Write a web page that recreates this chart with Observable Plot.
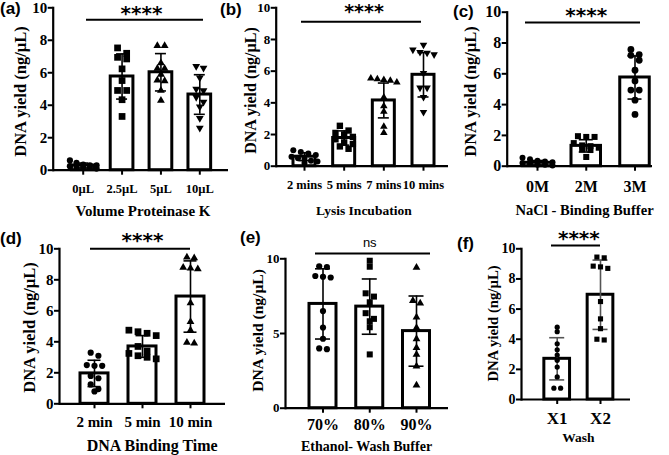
<!DOCTYPE html>
<html><head><meta charset="utf-8">
<script src="https://cdn.jsdelivr.net/npm/d3@7"></script>
<script src="https://cdn.jsdelivr.net/npm/@observablehq/plot@0.6"></script>
<style>
body{margin:0;background:#fff;}
#fig{position:relative;width:669px;height:455px;overflow:hidden;background:#fff;}
#fig svg{position:absolute;}
.plab{position:absolute;font-family:"Liberation Sans",Arial,sans-serif;font-weight:bold;font-size:17px;line-height:1;}
</style></head><body><div id="fig"></div>
<script>
// ---------------- DATA ----------------
const yTitle = "DNA yield (ng/µL)";
const panelLabels = ["(a)","(b)","(c)","(d)","(e)","(f)"];

const catsA = ["0µL","2.5µL","5µL","10µL"];
const ptsA = [
  [0.6,0.45,0.35,0.3,0.3,0.25,0.2,0.2,0.15,0.1],
  [7.53,7.2,6.95,6.85,6.24,5.52,4.91,4.91,4.34,3.31],
  [7.67,7.67,6.6,6.26,6.26,5.9,5.54,5.5,4.91,4.29],
  [6.4,6.3,5.7,5.0,4.9,4.5,4.2,3.9,3.2,2.6]
];
const meanA = [0.29,5.77,6.03,4.66];
const sdA = [0.15,1.39,1.15,1.22];
const xTitleA = "Volume Proteinase K";
const sigA = {text:"****", y:9.26};

const catsB = ["2 mins","5 mins","7 mins","10 mins"];
const ptsB = [
  [1.0,0.9,0.8,0.7,0.6,0.5,0.45,0.35,0.3,0.2],
  [2.55,2.25,2.1,2.0,1.85,1.7,1.5,1.4,1.25,1.1],
  [5.55,5.5,5.45,5.4,5.3,4.35,3.8,3.45,2.5,2.1],
  [7.66,7.35,7.2,7.15,7.05,5.87,4.95,4.95,4.36,3.41]
];
const meanB = [0.6,1.78,4.15,5.77];
const sdB = [0.25,0.45,1.1,1.4];
const xTitleB = "Lysis Incubation";
const sigB = {text:"****", y:9.12};

const catsC = ["0M","2M","3M"];
const ptsC = [
  [0.55,0.45,0.35,0.3,0.25,0.2,0.15,0.1,0.1,0.05],
  [1.95,1.9,1.9,1.5,1.35,1.3,1.2,1.1,1.05,0.6],
  [7.58,7.25,7.2,6.88,6.23,5.54,4.94,4.94,4.29,3.36]
];
const meanC = [0.22,1.32,5.76];
const sdC = [0.15,0.4,1.4];
const xTitleC = "NaCl - Binding Buffer";
const sigC = {text:"****", y:9.33};

const catsD = ["2 min","5 min","10 min"];
const ptsD = [
  [3.3,3.1,2.5,2.45,2.45,1.8,1.65,1.25,0.95,0.8],
  [4.75,4.65,4.55,4.4,3.7,3.4,3.25,3.1,3.0,2.9],
  [9.45,9.4,8.8,8.75,8.7,6.5,5.3,4.75,3.95,3.9]
];
const meanD = [1.96,3.7,6.92];
const sdD = [0.85,0.7,2.3];
const xTitleD = "DNA Binding Time";
const sigD = {text:"****", y:10.0};

const catsE = ["70%","80%","90%"];
const ptsE = [
  [9.5,9.45,8.85,8.8,8.75,6.5,5.4,4.65,4.0,3.95],
  [9.87,9.47,7.69,7.47,7.09,6.36,5.98,5.82,5.42,3.6],
  [9.42,7.2,7.02,6.09,5.38,4.64,4.04,3.6,2.8,1.53]
];
const meanE = [6.98,6.8,5.16];
const sdE = [2.35,1.85,2.35];
const xTitleE = "Ethanol- Wash Buffer";
const sigE = {text:"ns", y:10.35};

const catsF = ["X1","X2"];
const ptsF = [
  [4.8,4.5,3.7,3.3,2.95,2.6,2.15,1.5,0.75,0.75],
  [9.45,9.4,8.85,8.8,8.7,6.5,5.35,4.7,4.0,3.95]
];
const meanF = [2.7,6.95];
const sdF = [1.4,2.3];
const xTitleF = "Wash";
const sigF = {text:"****", y:10.22};

const ticks10 = [0,2,4,6,8,10];
const ticksE = [0,5,10];

// ---------------- STYLE / LAYOUT ----------------
const serif = '"Liberation Serif","Times New Roman",serif';
const triDown = {draw(ctx, size){const s3=Math.sqrt(3);const h=Math.sqrt(size/(3*s3));ctx.moveTo(0,2*h);ctx.lineTo(-s3*h,-h);ctx.lineTo(s3*h,-h);ctx.closePath();}};

const L = {
  a:{left:0,top:0,w:228,h:225,axisX:52.7,right:228,y10:7.3,y0:169.7,c0:82.7,cL:199.3,barW:22.7,capW:11,r:[3.1,3.8,2.9,2.9],syms:["circle","square","triangle",triDown],tickCY:188,tickFs:12.5,yTickFs:15,xtCX:142.5,xtCY:211,xtFs:15,ytCX:20,ytCY:91,ytFs:16.5,starCY:8,starFs:20,err:"black",lab:[0,2],sigL:86,sigR:203},
  b:{left:228,top:0,w:220,h:225,axisX:275.7,right:448,y10:7.3,y0:165.7,c0:304,cL:423,barW:22,capW:11,r:[3,3.6,2.8,2.8],syms:["circle","square","triangle",triDown],tickCY:184,tickFs:12.5,yTickFs:13,xtCX:363.3,xtCY:210,xtFs:13.5,ytCX:250,ytCY:90,ytFs:16,starCY:7.5,starFs:19,err:"black",lab:[220,3],sigL:301,sigR:421},
  c:{left:448,top:0,w:221,h:225,axisX:506.7,right:652,y10:11.7,y0:165.7,c0:537,cL:634.5,barW:29.5,capW:14,r:[3,3.4,3.4],syms:["circle","square","circle"],tickCY:186,tickFs:16,yTickFs:16,xtCX:584,xtCY:210,xtFs:14.6,ytCX:470,ytCY:91,ytFs:16.5,starCY:10,starFs:20,err:"black",lab:[453,5],sigL:525,sigR:640},
  d:{left:0,top:225,w:228,h:230,axisX:59,right:225,y10:248.3,y0:403.3,c0:94,cL:190,barW:28,capW:13,r:[3.1,3.8,2.9],syms:["circle","square","triangle"],tickCY:422,tickFs:15,yTickFs:15,xtCX:151.7,xtCY:445,xtFs:16,ytCX:29,ytCY:327,ytFs:16.5,starCY:235,starFs:20,err:"black",lab:[0,232],sigL:90,sigR:190},
  e:{left:228,top:225,w:220,h:230,axisX:285,right:448,y10:258.3,y0:407.7,c0:322.5,cL:416,barW:27,capW:15,r:[3.1,3.4,2.9],syms:["circle","square","triangle"],tickCY:424,tickFs:16,yTickFs:13,xtCX:366,xtCY:446,xtFs:14,ytCX:258,ytCY:330,ytFs:15.5,starCY:243,starFs:13,err:"black",lab:[240,231],ns:true,sigL:315,sigR:430},
  f:{left:448,top:225,w:221,h:230,axisX:521,right:630,y10:248.3,y0:399,c0:556.7,cL:600,barW:25.7,capW:15,r:[2.6,2.9],syms:["circle","square"],tickCY:418,tickFs:17,yTickFs:14,xtCX:578,xtCY:437,xtFs:13.5,ytCX:493,ytCY:323,ytFs:14.7,starCY:233,starFs:20,err:"#555",lab:[457,237],sigL:551,sigR:600}
};

// deterministic row arrangement of points (GraphPad-like scatter)
function swarm(vals, r, ppu, maxW){
  const idx = d3.range(vals.length).sort((i,j)=>vals[j]-vals[i]);
  const off = new Array(vals.length).fill(0);
  let row = [];
  const flush = ()=>{
    const m = row.length; if(!m) return;
    const sp = m>1 ? Math.min(2*r+1.5, maxW/(m-1)) : 0;
    row.forEach((i,k)=> off[i] = (k-(m-1)/2)*sp);
    row = [];
  };
  for (const i of idx){
    if (row.length && (vals[row[0]]-vals[i])*ppu > 1.7*r) flush();
    row.push(i);
  }
  flush();
  return off;
}

function panel(cats, pts, means, sds, xTitle, sig, yTicks, st){
  const n = cats.length;
  const step = (st.cL - st.c0)/(n-1);
  const pi = 1 - st.barW/step;
  const marginLeft = st.axisX - st.left, marginRight = st.left + st.w - st.right;
  const marginTop = st.y10 - st.top, marginBottom = st.top + st.h - st.y0;
  const ppu = (st.y0 - st.y10)/10;
  const stats = cats.map((c,i)=>({c, m:means[i], lo:means[i]-sds[i], hi:means[i]+sds[i]}));
  const dots = [];
  cats.forEach((c,i)=>{
    const off = swarm(pts[i], st.r[i], ppu, st.barW+4);
    const g = d3.group(pts[i].map((v,k)=>({c, v, dx:Math.round(off[k]*10)/10})), d=>d.dx);
    for (const [dx, arr] of g) dots.push(Plot.dot(arr, {x:"c", y:"v", dx, r:st.r[i], symbol:st.syms[i], fill:"black", stroke:"none"}));
  });
  const tickPad = (st.tickCY - st.y0) - 5 - 0.38*st.tickFs;
  const frameMidX = (st.axisX + st.right)/2, frameMidY = (st.y10 + st.y0)/2;
  const sigPx = st.y0 - sig.y*ppu;
  const starBase = st.ns ? st.starCY + 0.27*st.starFs : st.starCY + 0.55*st.starFs;
  const inset = (st.barW - st.capW)/2;
  const x0 = st.c0 - st.left, x1 = st.cL - st.left;
  const sigInsetL = (st.sigL - st.left) - (x0 - st.barW/2);
  const sigInsetR = (x1 + st.barW/2) - (st.sigR - st.left);
  const svg = Plot.plot({
    width: st.w, height: st.h, marginLeft, marginRight, marginTop, marginBottom,
    style: {background:"transparent", overflow:"visible", fontFamily:serif, fontWeight:"bold", color:"black"},
    x: {type:"band", domain:cats, range:[x0-step/2, x1+step/2], paddingInner:pi, paddingOuter:pi/2, align:0.5, round:false},
    y: {domain:[0,10]},
    marks: [
      Plot.barY(stats, {x:"c", y:"m", fill:"white", stroke:"black", strokeWidth:3}),
      Plot.ruleX(stats, {x:"c", y1:"lo", y2:"hi", stroke:st.err, strokeWidth:1.6}),
      Plot.tickY(stats, {x:"c", y:"hi", stroke:st.err, strokeWidth:1.6, inset}),
      Plot.tickY(stats, {x:"c", y:"lo", stroke:st.err, strokeWidth:1.6, inset}),
      ...dots,
      Plot.ruleY([0], {strokeWidth:2.2}),
      Plot.frame({anchor:"left", strokeWidth:2.2}),
      Plot.axisX({tickSize:5, tickPadding:tickPad, strokeWidth:2, fontSize:st.tickFs, fontWeight:"bold", label:null}),
      Plot.axisY({ticks:yTicks, tickSize:5, tickPadding:1, strokeWidth:2, fontSize:st.yTickFs, fontWeight:"bold", label:null, tickFormat:d=>String(d)}),
      Plot.text([xTitle], {frameAnchor:"bottom", text:d=>d, dx:st.xtCX-frameMidX, dy:st.xtCY-st.y0, fontSize:st.xtFs, fontWeight:"bold", lineAnchor:"middle", textAnchor:"middle"}),
      Plot.text([yTitle], {frameAnchor:"left", text:d=>d, rotate:-90, dx:st.ytCX-st.axisX, dy:st.ytCY-frameMidY, fontSize:st.ytFs, fontWeight:"bold", lineAnchor:"middle", textAnchor:"middle"}),
      Plot.ruleY([sig], {y:"y", x1:()=>cats[0], x2:()=>cats[n-1], insetLeft:sigInsetL, insetRight:sigInsetR, strokeWidth:2}),
      Plot.text([sig], {x:()=>cats[0], y:d=>d.y, text:d=>d.text, dx:(st.cL-st.c0)/2, dy:starBase-sigPx, lineAnchor:"bottom", textAnchor:"middle", fontFamily: st.ns ? '"Liberation Sans",Arial,sans-serif' : '"DejaVu Sans",sans-serif', fontWeight: st.ns ? "normal" : "bold", fontSize:st.starFs})
    ]
  });
  svg.style.left = st.left + "px";
  svg.style.top = st.top + "px";
  return svg;
}

const fig = document.getElementById("fig");
const specs = [
  [catsA, ptsA, meanA, sdA, xTitleA, sigA, ticks10, L.a],
  [catsB, ptsB, meanB, sdB, xTitleB, sigB, ticks10, L.b],
  [catsC, ptsC, meanC, sdC, xTitleC, sigC, ticks10, L.c],
  [catsD, ptsD, meanD, sdD, xTitleD, sigD, ticks10, L.d],
  [catsE, ptsE, meanE, sdE, xTitleE, sigE, ticksE, L.e],
  [catsF, ptsF, meanF, sdF, xTitleF, sigF, ticks10, L.f]
];
specs.forEach((s,i)=>{
  fig.appendChild(panel(...s));
  const d = document.createElement("div");
  d.className = "plab";
  d.textContent = panelLabels[i];
  d.style.left = s[7].lab[0] + "px";
  d.style.top = (s[7].lab[1]-2) + "px";
  fig.appendChild(d);
});
</script>
</body></html>
